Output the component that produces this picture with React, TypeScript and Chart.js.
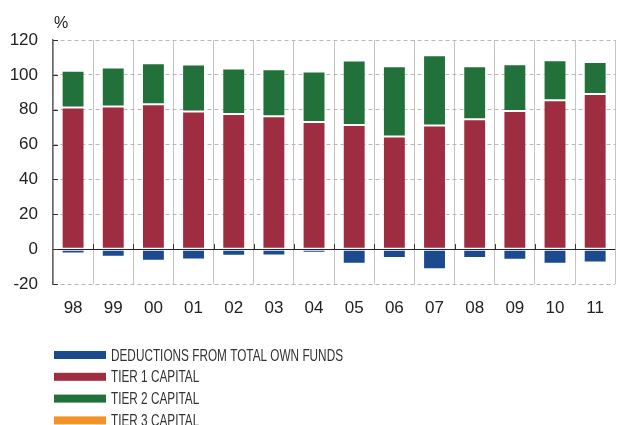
import React, { useEffect, useRef } from 'react';
import { Chart, registerables } from 'chart.js';
Chart.register(...registerables);

const categories = ['98', '99', '00', '01', '02', '03', '04', '05', '06', '07', '08', '09', '10', '11'];
const deductions = [-2.5, -4.4, -6.7, -5.9, -3.8, -3.6, -2.1, -8.4, -5.1, -11.6, -5.1, -6.1, -8.4, -7.6];
const tier1 = [81.3, 81.9, 83.2, 79.0, 77.5, 76.2, 73.0, 71.3, 64.7, 70.9, 74.5, 79.3, 85.5, 89.0];
const tier2 = [21.0, 22.3, 23.5, 26.9, 26.1, 27.0, 28.9, 36.9, 40.3, 40.4, 30.5, 26.8, 22.9, 18.4];
const tier3 = [0, 0, 0, 0, 0, 0, 0, 0, 0, 0, 0, 0, 0, 0];
const yMin = -20;
const yMax = 120;
const yStep = 20;
const unitLabel = '%';

const COLORS = {
  deductions: '#1b4a8e',
  tier1: '#9f2d41',
  tier2: '#22703a',
  tier3: '#f39325',
};

const legendItems = [
  { label: 'DEDUCTIONS FROM TOTAL OWN FUNDS', color: COLORS.deductions },
  { label: 'TIER 1 CAPITAL', color: COLORS.tier1 },
  { label: 'TIER 2 CAPITAL', color: COLORS.tier2 },
  { label: 'TIER 3 CAPITAL', color: COLORS.tier3 },
];

const overlayPlugin = {
  id: 'overlay',
  afterDatasetsDraw(chart: any) {
    const { ctx, chartArea, scales } = chart;
    const x = scales.x;
    const y = scales.y;
    const y0 = y.getPixelForValue(0);
    ctx.save();
    ctx.strokeStyle = '#222';
    ctx.lineWidth = 1;
    ctx.beginPath();
    ctx.moveTo(chartArea.left, Math.round(y0) + 0.5);
    ctx.lineTo(chartArea.right, Math.round(y0) + 0.5);
    ctx.stroke();
    const w = (x.right - x.left) / categories.length;
    ctx.strokeStyle = '#333';
    ctx.beginPath();
    for (let i = 1; i < categories.length; i++) {
      const bx = Math.round(x.left + i * w) + 0.5;
      ctx.moveTo(bx, y0);
      ctx.lineTo(bx, y0 - 5);
    }
    // y tick marks pointing into plot
    y.ticks.forEach((t: any) => {
      const py = Math.round(y.getPixelForValue(t.value)) + 0.5;
      ctx.moveTo(chartArea.left, py);
      ctx.lineTo(chartArea.left + 5, py);
    });
    ctx.stroke();
    ctx.restore();
  },
  afterDraw(chart: any) {
    const { ctx, chartArea } = chart;
    ctx.save();
    ctx.fillStyle = '#222';
    ctx.font = '16px "Liberation Sans", Arial, sans-serif';
    ctx.textBaseline = 'alphabetic';
    ctx.textAlign = 'left';
    ctx.fillText(unitLabel, chartArea.left + 1, 28);
    ctx.font = '16.5px "Liberation Sans", Arial, sans-serif';
    const sx = 232 / ctx.measureText(legendItems[0].label).width;
    legendItems.forEach((item, i) => {
      const cy = 355 + i * 21.8;
      ctx.fillStyle = item.color;
      ctx.fillRect(chartArea.left + 1, cy - 4, 52, 8);
      ctx.fillStyle = '#333';
      ctx.textBaseline = 'middle';
      ctx.save();
      ctx.translate(chartArea.left + 58, cy + 1);
      ctx.scale(sx, 1);
      ctx.fillText(item.label, 0, 0);
      ctx.restore();
    });
    ctx.restore();
  },
};

export default function App() {
  const ref = useRef<HTMLCanvasElement>(null);
  useEffect(() => {
    document.body.style.margin = '0';
    const canvas = ref.current;
    if (!canvas) return;
    const barOpts = {
      borderWidth: 1,
      borderColor: 'rgba(255,255,255,0.45)',
      barPercentage: 0.57,
      categoryPercentage: 1,
      borderSkipped: false,
    };
    const chart = new Chart(canvas, {
      type: 'bar',
      data: {
        labels: categories,
        datasets: [
          { label: 'TIER 1 CAPITAL', data: tier1, backgroundColor: COLORS.tier1, ...barOpts },
          { label: 'TIER 2 CAPITAL', data: tier2, backgroundColor: COLORS.tier2, ...barOpts },
          { label: 'TIER 3 CAPITAL', data: tier3, backgroundColor: COLORS.tier3, ...barOpts, borderWidth: 0 },
          { label: 'DEDUCTIONS FROM TOTAL OWN FUNDS', data: deductions, backgroundColor: COLORS.deductions, ...barOpts },
        ],
      } as any,
      options: {
        responsive: false,
        animation: false,
        layout: { padding: { top: 40, left: 0, right: 0, bottom: 0 } },
        plugins: { legend: { display: false }, tooltip: { enabled: false } },
        scales: {
          x: {
            stacked: true,
            offset: true,
            grid: { offset: true, color: '#c4c4c4', lineWidth: 1, drawTicks: false },
            border: { display: false },
            ticks: { color: '#222', font: { size: 17, family: '"Liberation Sans", Arial, sans-serif' }, padding: 14 },
            afterFit: (axis: any) => { axis.height = 141; },
          },
          y: {
            stacked: true,
            min: yMin,
            max: yMax,
            ticks: {
              stepSize: yStep,
              color: '#222',
              padding: 15,
              font: { size: 17, family: '"Liberation Sans", Arial, sans-serif' },
            },
            grid: {
              drawTicks: false,
              color: (c: any) => (c.tick && c.tick.value === 0 ? 'rgba(0,0,0,0)' : '#b8b8b8'),
            },
            border: { display: true, color: '#666', width: 1.5, dash: [4, 3] },
            afterFit: (axis: any) => { axis.width = 53; },
          },
        },
      } as any,
      plugins: [overlayPlugin],
    });
    return () => chart.destroy();
  }, []);
  return <canvas ref={ref} width={618} height={425} style={{ display: 'block' }} />;
}
